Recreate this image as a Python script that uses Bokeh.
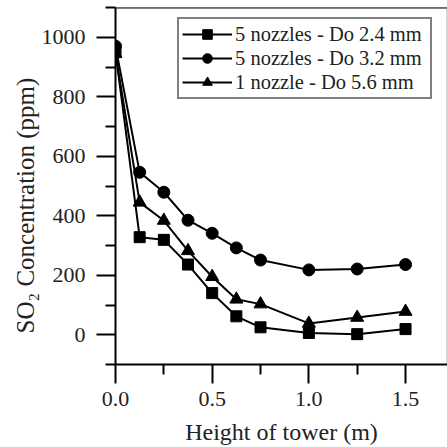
import math
from bokeh.plotting import figure
from bokeh.models import (FixedTicker, PrintfTickFormatter, Span, Title, Legend,
                          LegendItem, Range1d)
from bokeh.embed import file_html
from bokeh.resources import INLINE

# ---- data ----
height_m = [0.0, 0.125, 0.25, 0.375, 0.5, 0.625, 0.75, 1.0, 1.25, 1.5]
so2_5noz_24 = [950, 328, 319, 236, 140, 62, 25, 6, 2, 19]
so2_5noz_32 = [970, 546, 479, 385, 341, 292, 251, 218, 221, 236]
so2_1noz_56 = [945, 445, 384, 282, 195, 119, 103, 38, 58, 78]
series_names = ["5 nozzles - Do 2.4 mm", "5 nozzles - Do 3.2 mm", "1 nozzle - Do 5.6 mm"]
x_major = [0.0, 0.5, 1.0, 1.5]
x_minor = [0.25, 0.75, 1.25]
y_major = [0, 200, 400, 600, 800, 1000]
y_minor = [-100, 100, 300, 500, 700, 900, 1100]
x_title = "Height of tower (m)"
y_title = "SO\u2082 Concentration (ppm)"

FONT = "Liberation Serif"

p = figure(width=447, height=447, output_backend="svg", toolbar_location=None,
           x_range=Range1d(0, 1.717), y_range=Range1d(-100, 1100),
           min_border_left=115, min_border_right=0, min_border_top=7,
           min_border_bottom=83)
p.outline_line_color = "#d8d8d8"
p.xgrid.visible = False
p.ygrid.visible = False
p.background_fill_color = "white"
p.border_fill_color = "white"

# axes
for ax in (p.xaxis[0], p.yaxis[0]):
    ax.axis_line_width = 2
    ax.axis_line_color = "black"
    ax.major_tick_line_width = 2
    ax.minor_tick_line_width = 2
    ax.major_tick_line_color = "black"
    ax.minor_tick_line_color = "black"
    ax.major_tick_in = 0
    ax.minor_tick_in = 0
    ax.major_tick_out = 19
    ax.minor_tick_out = 10
    ax.major_label_text_font = FONT
    ax.major_label_text_font_size = "22px"
    ax.major_label_text_color = "#222222"

p.xaxis[0].ticker = FixedTicker(ticks=x_major, minor_ticks=x_minor)
p.xaxis[0].formatter = PrintfTickFormatter(format="%.1f")
p.xaxis[0].major_label_standoff = 8
p.xaxis[0].axis_label = x_title
p.xaxis[0].axis_label_text_font = FONT
p.xaxis[0].axis_label_text_font_size = "24px"
p.xaxis[0].axis_label_text_font_style = "normal"
p.xaxis[0].axis_label_text_color = "#222222"
p.xaxis[0].axis_label_standoff = 10

p.yaxis[0].ticker = FixedTicker(ticks=y_major, minor_ticks=y_minor)
p.yaxis[0].major_label_standoff = 11

# top frame line
p.add_layout(Span(location=1100, dimension="width", line_color="black", line_width=2))

# y title as a left-side title, positioned along the axis
ytitle = Title(text=y_title, align="left", offset=31, standoff=0,
               text_font=FONT, text_font_size="25px", text_font_style="normal",
               text_color="#222222")
p.add_layout(ytitle, "left")

# series
items = []
specs = [(so2_5noz_24, "square", 11), (so2_5noz_32, "circle", 12), (so2_1noz_56, "triangle", 13)]
for name, (ys, marker, size) in zip(series_names, specs):
    ln = p.line(height_m, ys, line_color="black", line_width=2)
    sc = p.scatter(height_m, ys, marker=marker, size=size, fill_color="black", line_color="black")
    items.append(LegendItem(label=name, renderers=[ln, sc]))

legend = Legend(items=items, location=(62, 265))
legend.border_line_color = "black"
legend.border_line_width = 2
legend.background_fill_alpha = 1
legend.label_text_font = FONT
legend.label_text_font_size = "20.5px"
legend.label_text_color = "#222222"
legend.glyph_width = 50
legend.glyph_height = 24
legend.label_height = 24
legend.label_width = 192
legend.label_standoff = 3
legend.padding = 3
legend.spacing = 0
legend.margin = 0
p.add_layout(legend)

open("out.html", "w").write(file_html(p, INLINE))
